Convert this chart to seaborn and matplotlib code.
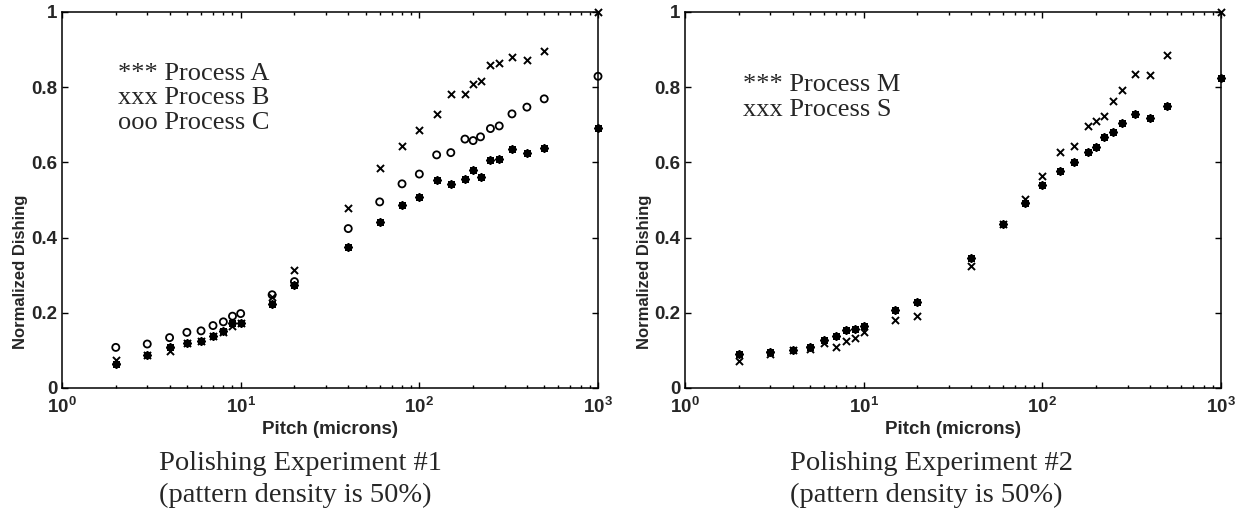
import numpy as np
import pandas as pd
import matplotlib
matplotlib.use("Agg")
import matplotlib.pyplot as plt
from matplotlib.ticker import FixedLocator, FixedFormatter, LogLocator, NullFormatter
import seaborn as sns

# ---------------- data ----------------
pitch = [2, 3, 4, 5, 6, 7, 8, 9, 10, 15, 20, 40, 60, 80, 100, 125, 150, 180,
         200, 220, 250, 280, 330, 400, 500, 1000]

# Experiment 1
proc_a = [0.064, 0.088, 0.110, 0.120, 0.125, 0.138, 0.152, 0.172, 0.174, 0.223,
          0.274, 0.374, 0.441, 0.487, 0.507, 0.552, 0.543, 0.555, 0.580, 0.562,
          0.606, 0.609, 0.636, 0.624, 0.638, 0.692]
proc_b = [0.074, 0.088, 0.098, 0.120, 0.125, 0.138, 0.150, 0.165, 0.174, 0.243,
          0.314, 0.480, 0.586, 0.644, 0.686, 0.730, 0.781, 0.781, 0.808, 0.816,
          0.858, 0.864, 0.879, 0.872, 0.896, 1.000]
proc_c = [0.108, 0.117, 0.134, 0.148, 0.152, 0.166, 0.176, 0.191, 0.198, 0.248,
          0.283, 0.424, 0.495, 0.543, 0.569, 0.620, 0.626, 0.662, 0.658, 0.668,
          0.690, 0.697, 0.729, 0.747, 0.769, 0.829]

# Experiment 2
proc_m = [0.090, 0.097, 0.101, 0.110, 0.128, 0.138, 0.154, 0.158, 0.165, 0.207,
          0.228, 0.345, 0.435, 0.492, 0.539, 0.577, 0.602, 0.627, 0.642, 0.668,
          0.680, 0.705, 0.729, 0.718, 0.750, 0.824]
proc_s = [0.073, 0.090, 0.101, 0.104, 0.120, 0.110, 0.126, 0.133, 0.148, 0.181,
          0.191, 0.325, 0.435, 0.502, 0.565, 0.627, 0.644, 0.698, 0.711, 0.723,
          0.762, 0.792, 0.835, 0.833, 0.885, 1.000]

x_ticks = [1, 10, 100, 1000]
x_tick_labels = [r"$\mathbf{10^{0}}$", r"$\mathbf{10^{1}}$",
                 r"$\mathbf{10^{2}}$", r"$\mathbf{10^{3}}$"]
y_ticks = [0, 0.2, 0.4, 0.6, 0.8, 1.0]
y_tick_labels = ["0", "0.2", "0.4", "0.6", "0.8", "1"]

legend1 = ["*** Process A", "xxx Process B", "ooo Process C"]
legend2 = ["*** Process M", "xxx Process S"]
caption1 = ["Polishing Experiment #1", "(pattern density is 50%)"]
caption2 = ["Polishing Experiment #2", "(pattern density is 50%)"]
xlabel = "Pitch (microns)"
ylabel = "Normalized Dishing"

# ---------------- style ----------------
sns.set_style("ticks")
plt.rcParams["font.family"] = ["Liberation Sans", "DejaVu Sans"]
plt.rcParams["mathtext.fontset"] = "custom"
plt.rcParams["mathtext.bf"] = "Liberation Sans:bold"
plt.rcParams["mathtext.rm"] = "Liberation Sans"
plt.rcParams["mathtext.it"] = "Liberation Sans:italic"

W, H = 1243, 509
fig = plt.figure(figsize=(W / 100, H / 100), dpi=100)
fig.patch.set_facecolor("white")


def fx(px):
    return px / W


def fy(py):
    return 1 - py / H


ASTER = (8, 2, 0)


def style_axes(ax):
    ax.set_xscale("log")
    ax.set_xlim(1, 1000)
    ax.set_ylim(0, 1)
    ax.set_facecolor("white")
    ax.xaxis.set_major_locator(FixedLocator(x_ticks))
    ax.xaxis.set_major_formatter(FixedFormatter(x_tick_labels))
    ax.xaxis.set_minor_locator(LogLocator(base=10, subs=np.arange(2, 10)))
    ax.xaxis.set_minor_formatter(NullFormatter())
    ax.yaxis.set_major_locator(FixedLocator(y_ticks))
    ax.yaxis.set_major_formatter(FixedFormatter(y_tick_labels))
    ax.tick_params(which="both", direction="in", top=True, right=True,
                   color="black", width=1.0)
    ax.tick_params(which="major", length=4.5, labelsize=13.5, pad=3.5)
    ax.tick_params(which="minor", length=2.3)
    ax.tick_params(axis="x", which="major", pad=6.5)
    for lab in ax.get_yticklabels():
        lab.set_fontweight("bold")
    for sp in ax.spines.values():
        sp.set_visible(True)
        sp.set_linewidth(1.1)
        sp.set_color("black")
    ax.set_xlabel("")
    ax.set_ylabel("")


def scat(ax, y, marker, open_face=False):
    kws = dict(x=pitch, y=y, ax=ax, marker=marker, s=26, color="black",
               legend=False, clip_on=False, zorder=3)
    if open_face:
        kws.update(facecolor="none", edgecolor="black", linewidth=1.3)
    else:
        kws.update(linewidth=1.4)
    sns.scatterplot(**kws)


L1, R1 = 62, 598
L2, R2 = 685, 1221
TOP, BOT = 12, 388

ax1 = fig.add_axes([fx(L1), fy(BOT), fx(R1 - L1), (BOT - TOP) / H])
scat(ax1, proc_c, "o", open_face=True)
scat(ax1, proc_b, "x")
scat(ax1, proc_a, ASTER)
style_axes(ax1)

ax2 = fig.add_axes([fx(L2), fy(BOT), fx(R2 - L2), (BOT - TOP) / H])
scat(ax2, proc_s, "x")
scat(ax2, proc_m, ASTER)
style_axes(ax2)

serif = ["Liberation Serif", "DejaVu Serif"]

# legend-like text
for i, t in enumerate(legend1):
    fig.text(fx(118), fy(74 + 24.5 * i), t, family=serif, fontsize=19,
             ha="left", va="center")
for i, t in enumerate(legend2):
    fig.text(fx(743), fy(85 + 24.5 * i), t, family=serif, fontsize=19,
             ha="left", va="center")

# axis labels
for (l, r) in [(L1, R1), (L2, R2)]:
    fig.text(fx((l + r) / 2), fy(429), xlabel, fontsize=13.5, fontweight="bold",
             ha="center", va="center")
for xl in [21, 644]:
    fig.text(fx(xl), fy(272), ylabel, fontsize=12, fontweight="bold",
             rotation=90, ha="center", va="center")

# captions
for xl, cap in [(159, caption1), (790, caption2)]:
    fig.text(fx(xl), fy(470), cap[0], family=serif, fontsize=20.5,
             ha="left", va="baseline")
    fig.text(fx(xl), fy(502), cap[1], family=serif, fontsize=20.5,
             ha="left", va="baseline")

fig.savefig("out.png", dpi=100, facecolor="white")
